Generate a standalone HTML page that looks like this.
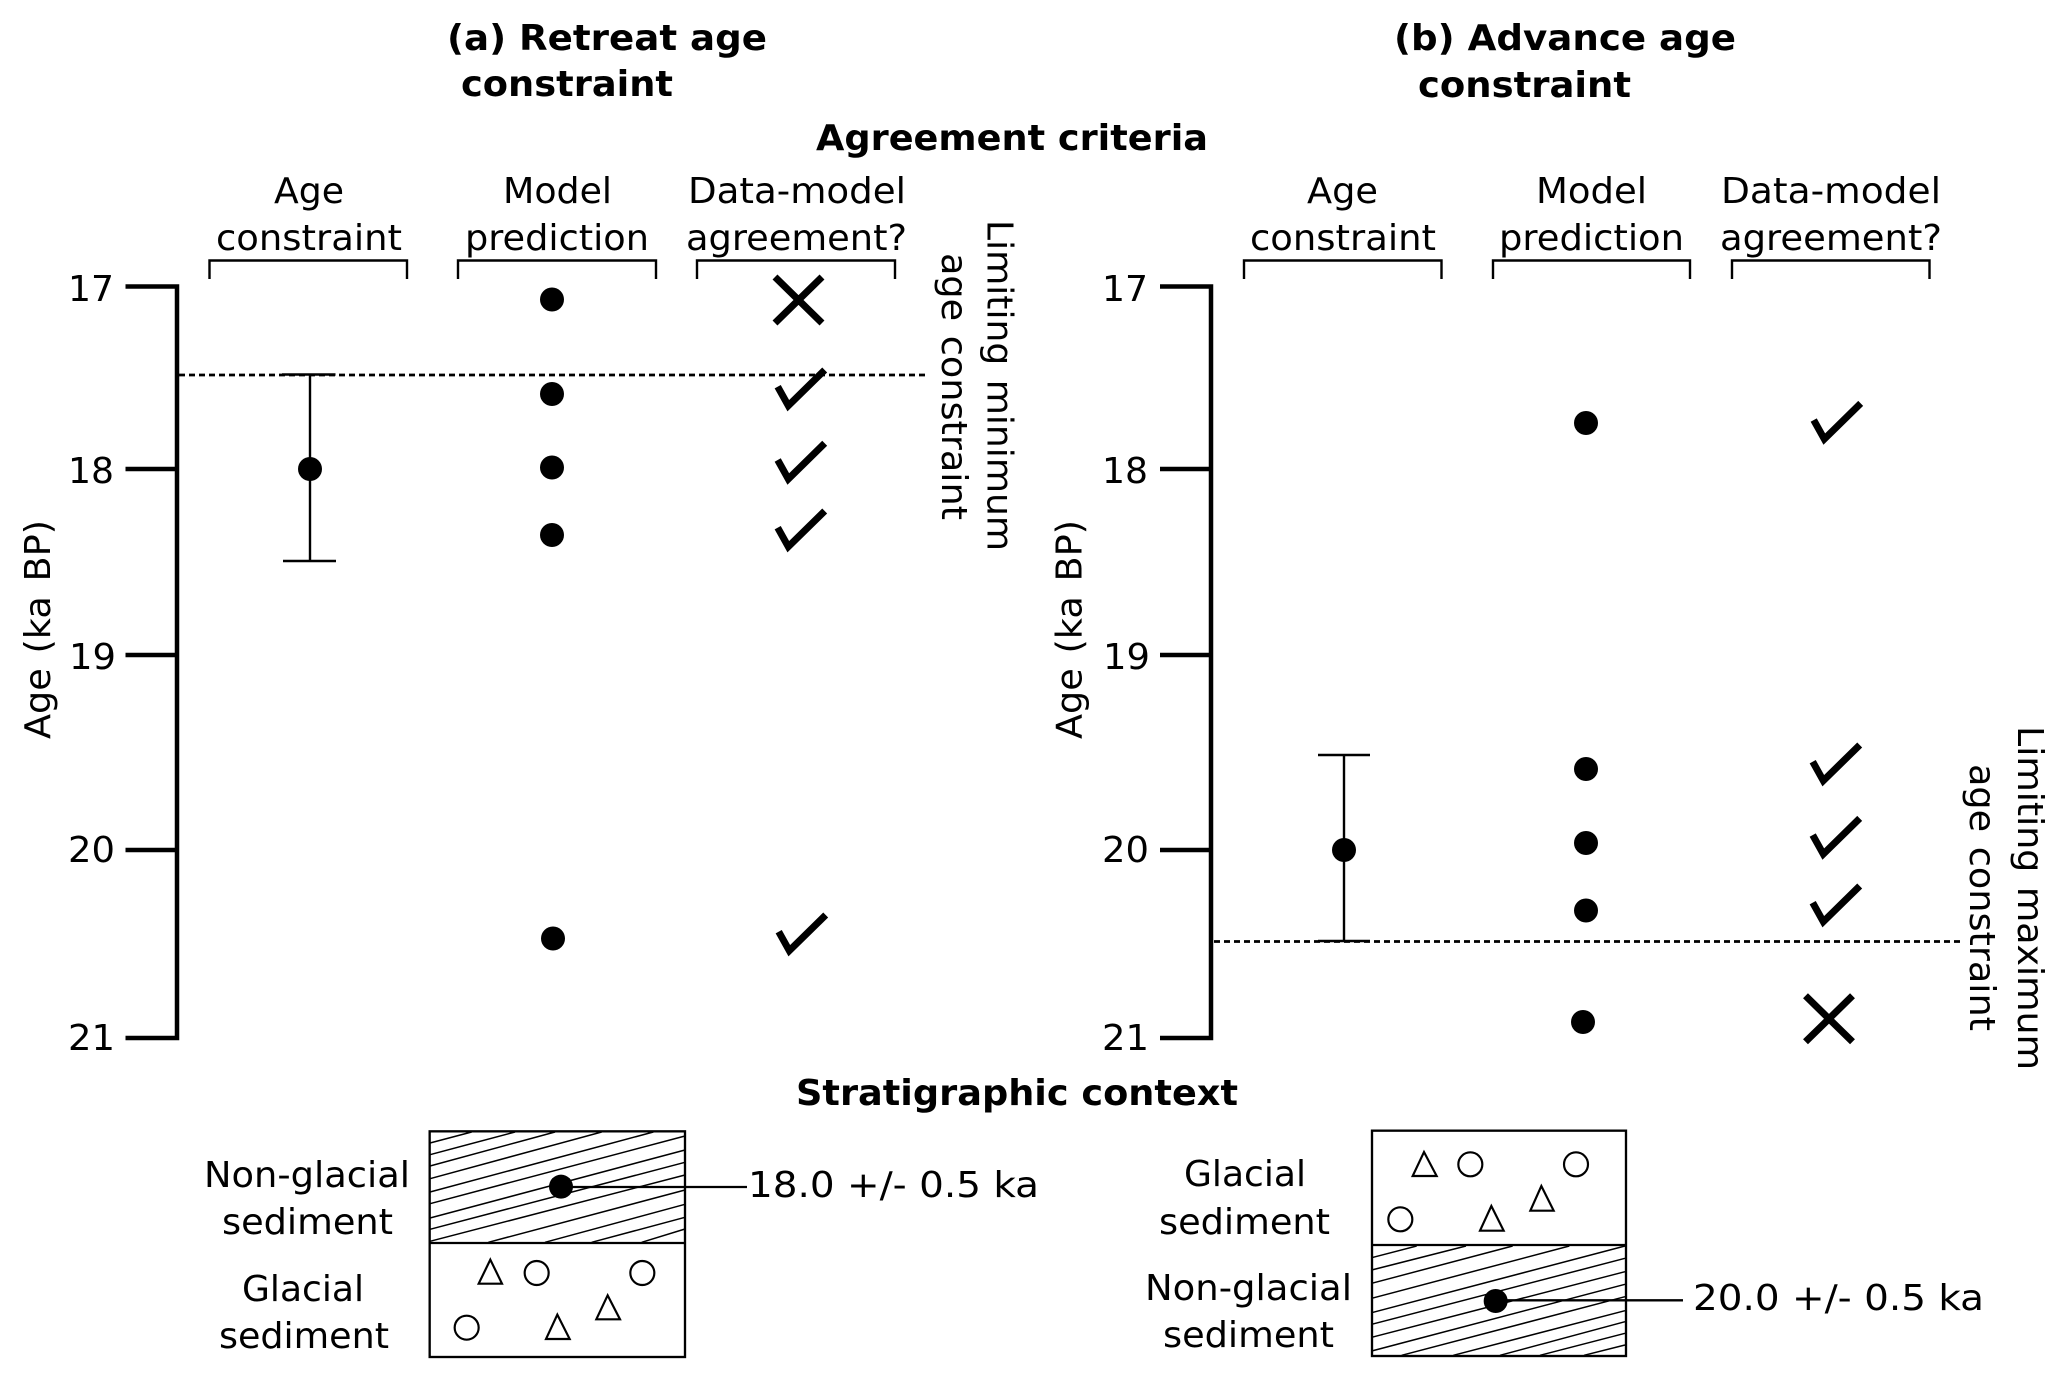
<!DOCTYPE html>
<html><head><meta charset="utf-8"><style>
html,body{margin:0;padding:0;background:#fff;width:2067px;height:1382px;overflow:hidden}
svg{display:block}
text{font-family:"DejaVu Sans","Liberation Sans",sans-serif;font-size:36px;fill:#000}
.b{font-weight:bold}
.w{word-spacing:3px}
</style></head><body>
<svg width="2067" height="1382" viewBox="0 0 2067 1382" xmlns="http://www.w3.org/2000/svg">
<rect width="2067" height="1382" fill="#fff"/>
<!-- titles -->
<text class="b" x="447" y="50" textLength="320" lengthAdjust="spacingAndGlyphs">(a) Retreat age</text>
<text class="b" x="461" y="96" textLength="212" lengthAdjust="spacingAndGlyphs">constraint</text>
<text class="b" x="1394" y="50" textLength="342" lengthAdjust="spacingAndGlyphs">(b) Advance age</text>
<text class="b" x="1418" y="97" textLength="213" lengthAdjust="spacingAndGlyphs">constraint</text>
<text class="b" x="816" y="150" textLength="392" lengthAdjust="spacingAndGlyphs">Agreement criteria</text>
<text class="b" x="796" y="1105" textLength="442" lengthAdjust="spacingAndGlyphs">Stratigraphic context</text>
<!-- column heads a -->
<text x="274" y="203" textLength="70" lengthAdjust="spacingAndGlyphs">Age</text>
<text x="216" y="250" textLength="186" lengthAdjust="spacingAndGlyphs">constraint</text>
<text x="503" y="203" textLength="109" lengthAdjust="spacingAndGlyphs">Model</text>
<text x="465" y="250" textLength="184" lengthAdjust="spacingAndGlyphs">prediction</text>
<text x="688" y="203" textLength="218" lengthAdjust="spacingAndGlyphs">Data-model</text>
<text x="686" y="250" textLength="221" lengthAdjust="spacingAndGlyphs">agreement?</text>
<!-- column heads b -->
<text x="1307" y="203" textLength="71" lengthAdjust="spacingAndGlyphs">Age</text>
<text x="1250" y="250" textLength="186" lengthAdjust="spacingAndGlyphs">constraint</text>
<text x="1536" y="203" textLength="111" lengthAdjust="spacingAndGlyphs">Model</text>
<text x="1499" y="250" textLength="185" lengthAdjust="spacingAndGlyphs">prediction</text>
<text x="1721" y="203" textLength="220" lengthAdjust="spacingAndGlyphs">Data-model</text>
<text x="1720" y="250" textLength="222" lengthAdjust="spacingAndGlyphs">agreement?</text>
<!-- brackets -->
<g fill="none" stroke="#000" stroke-width="2.4">
<path d="M209.5,279 V260.5 H407 V279"/>
<path d="M458,279 V260.5 H656 V279"/>
<path d="M697,279 V260.5 H895 V279"/>
<path d="M1244,279 V260.5 H1441.5 V279"/>
<path d="M1493,279 V260.5 H1690 V279"/>
<path d="M1732,279 V260.5 H1929.5 V279"/>
</g>
<!-- axes -->
<g fill="none" stroke="#000" stroke-width="4.5">
<path d="M125.5,286.5 H177 V1038 H125.5"/>
<path d="M125.5,469 H177 M125.5,655 H177 M125.5,850 H177"/>
<path d="M1160,286.5 H1211 V1038 H1160"/>
<path d="M1160,469 H1211 M1160,655 H1211 M1160,850 H1211"/>
</g>
<!-- tick labels -->
<text x="68" y="301" textLength="46" lengthAdjust="spacingAndGlyphs">17</text>
<text x="68" y="483" textLength="46" lengthAdjust="spacingAndGlyphs">18</text>
<text x="69" y="669" textLength="47" lengthAdjust="spacingAndGlyphs">19</text>
<text x="68" y="862" textLength="47" lengthAdjust="spacingAndGlyphs">20</text>
<text x="68" y="1050" textLength="47" lengthAdjust="spacingAndGlyphs">21</text>
<text x="1102" y="301" textLength="46" lengthAdjust="spacingAndGlyphs">17</text>
<text x="1102" y="483" textLength="46" lengthAdjust="spacingAndGlyphs">18</text>
<text x="1103" y="669" textLength="47" lengthAdjust="spacingAndGlyphs">19</text>
<text x="1102" y="862" textLength="47" lengthAdjust="spacingAndGlyphs">20</text>
<text x="1102" y="1050" textLength="47" lengthAdjust="spacingAndGlyphs">21</text>
<!-- rotated labels -->
<text class="w" transform="translate(50,739) rotate(-90)" textLength="219" lengthAdjust="spacingAndGlyphs">Age (ka BP)</text>
<text class="w" transform="translate(1081.5,739) rotate(-90)" textLength="219" lengthAdjust="spacingAndGlyphs">Age (ka BP)</text>
<text class="w" transform="translate(987.5,220) rotate(90)" textLength="331" lengthAdjust="spacingAndGlyphs">Limiting minimum</text>
<text class="w" transform="translate(942,253) rotate(90)" textLength="267" lengthAdjust="spacingAndGlyphs">age constraint</text>
<text class="w" transform="translate(2018,726) rotate(90)" textLength="344" lengthAdjust="spacingAndGlyphs">Limiting maximum</text>
<text class="w" transform="translate(1970,764) rotate(90)" textLength="267" lengthAdjust="spacingAndGlyphs">age constraint</text>
<!-- dotted -->
<g stroke="#000" stroke-width="2.8" stroke-dasharray="6 4" fill="none">
<path d="M179,375 H927"/>
<path d="M1214,941.5 H1960"/>
</g>
<!-- error bars -->
<g stroke="#000" stroke-width="2.4" fill="none">
<path d="M282,374.5 H335.5 M310,375 V561 M283,561 H336"/>
<path d="M1318,755 H1370 M1344,755 V941.5 M1318,941 H1370"/>
</g>
<!-- dots -->
<g fill="#000">
<circle cx="310" cy="469" r="12"/>
<circle cx="1344" cy="850" r="12"/>
<circle cx="552" cy="299.5" r="12"/>
<circle cx="552" cy="394" r="12"/>
<circle cx="552" cy="467.5" r="12"/>
<circle cx="552" cy="535" r="12"/>
<circle cx="553" cy="938.5" r="12"/>
<circle cx="1586" cy="423" r="12"/>
<circle cx="1586" cy="769" r="12"/>
<circle cx="1586" cy="843" r="12"/>
<circle cx="1586" cy="910.5" r="12"/>
<circle cx="1583" cy="1022" r="12"/>
</g>
<!-- checks -->
<g fill="none" stroke="#000" stroke-width="7" stroke-miterlimit="10">
<path d="M777.7,386.7 L788.3,405.7 L824.7,370"/>
<path transform="translate(0,73.3)" d="M777.7,386.7 L788.3,405.7 L824.7,370"/>
<path transform="translate(0,141)" d="M777.7,386.7 L788.3,405.7 L824.7,370"/>
<path transform="translate(1,545)" d="M777.7,386.7 L788.3,405.7 L824.7,370"/>
<path transform="translate(1036,33.4)" d="M777.7,386.7 L788.3,405.7 L824.7,370"/>
<path transform="translate(1035,375)" d="M777.7,386.7 L788.3,405.7 L824.7,370"/>
<path transform="translate(1035,448.4)" d="M777.7,386.7 L788.3,405.7 L824.7,370"/>
<path transform="translate(1035,516)" d="M777.7,386.7 L788.3,405.7 L824.7,370"/>
<!-- crosses -->
<path d="M775,277 L822,323 M822,277 L775,323"/>
<path transform="translate(1030.5,718.8)" d="M775,277 L822,323 M822,277 L775,323"/>
</g>
<!-- stratigraphy a -->
<g transform="translate(420,1120) scale(0.33333)" fill="none" stroke="#000">
<g stroke-width="4.5">
<path d="M30,69 L155,36 M30,104 L285,36 M30,138 L405,36 M30,176 L545,36 M30,216 L700,36 M30,251 L795,48 M30,294 L795,90 M30,328 L795,127 M30,364 L795,165 M205,367 L795,210 M375,367 L795,253 M515,367 L795,292 M665,367 L795,327"/>
</g>
<rect x="29" y="34" width="766" height="677" stroke-width="7"/>
<path d="M29,369 H795" stroke-width="7"/>
<g stroke-width="6.5" fill="#fff">
<path d="M211,419 L246,491 L176,491 Z"/>
<path d="M412,584 L449,657 L378,657 Z"/>
<path d="M563,526 L600,598 L529,598 Z"/>
<circle cx="350" cy="459" r="36"/>
<circle cx="667" cy="459" r="36"/>
<circle cx="140" cy="623" r="36"/>
</g>
<path d="M423,201 H981" stroke-width="7"/>
<circle cx="423" cy="200" r="36" fill="#000" stroke="none"/>
</g>
<!-- stratigraphy b -->
<g transform="translate(1360,1120) scale(0.33333)" fill="none" stroke="#000">
<g stroke-width="4.5">
<path d="M35,413 L170,378 M35,450 L318,378 M35,490 L458,378 M35,535 L628,378 M35,578 L795,378 M35,613 L795,415 M35,652 L795,455 M35,693 L795,493 M125,706 L795,530 M280,706 L795,572 M420,706 L795,605 M540,706 L795,640 M672,706 L795,675"/>
</g>
<rect x="36" y="32" width="762" height="676" stroke-width="7"/>
<path d="M36,375 H798" stroke-width="7"/>
<g stroke-width="6.5" fill="#fff">
<path d="M192,96 L230,168 L158,168 Z"/>
<path d="M394,258 L431,332 L360,332 Z"/>
<path d="M544,198 L581,272 L511,272 Z"/>
<circle cx="331" cy="133" r="36"/>
<circle cx="648" cy="133" r="36"/>
<circle cx="121" cy="298" r="36"/>
</g>
<path d="M407,541 H969" stroke-width="7"/>
<circle cx="407" cy="543" r="36" fill="#000" stroke="none"/>
</g>
<!-- strat labels -->
<text x="204" y="1187" textLength="206" lengthAdjust="spacingAndGlyphs">Non-glacial</text>
<text x="222" y="1234" textLength="171" lengthAdjust="spacingAndGlyphs">sediment</text>
<text x="242" y="1301" textLength="122" lengthAdjust="spacingAndGlyphs">Glacial</text>
<text x="219" y="1348" textLength="170" lengthAdjust="spacingAndGlyphs">sediment</text>
<text x="1184" y="1186" textLength="122" lengthAdjust="spacingAndGlyphs">Glacial</text>
<text x="1159" y="1234" textLength="171" lengthAdjust="spacingAndGlyphs">sediment</text>
<text x="1145" y="1300" textLength="207" lengthAdjust="spacingAndGlyphs">Non-glacial</text>
<text x="1163" y="1347" textLength="171" lengthAdjust="spacingAndGlyphs">sediment</text>
<text x="748" y="1197" textLength="291" lengthAdjust="spacingAndGlyphs">18.0 +/- 0.5 ka</text>
<text x="1693" y="1310" textLength="291" lengthAdjust="spacingAndGlyphs">20.0 +/- 0.5 ka</text>
</svg>
</body></html>
